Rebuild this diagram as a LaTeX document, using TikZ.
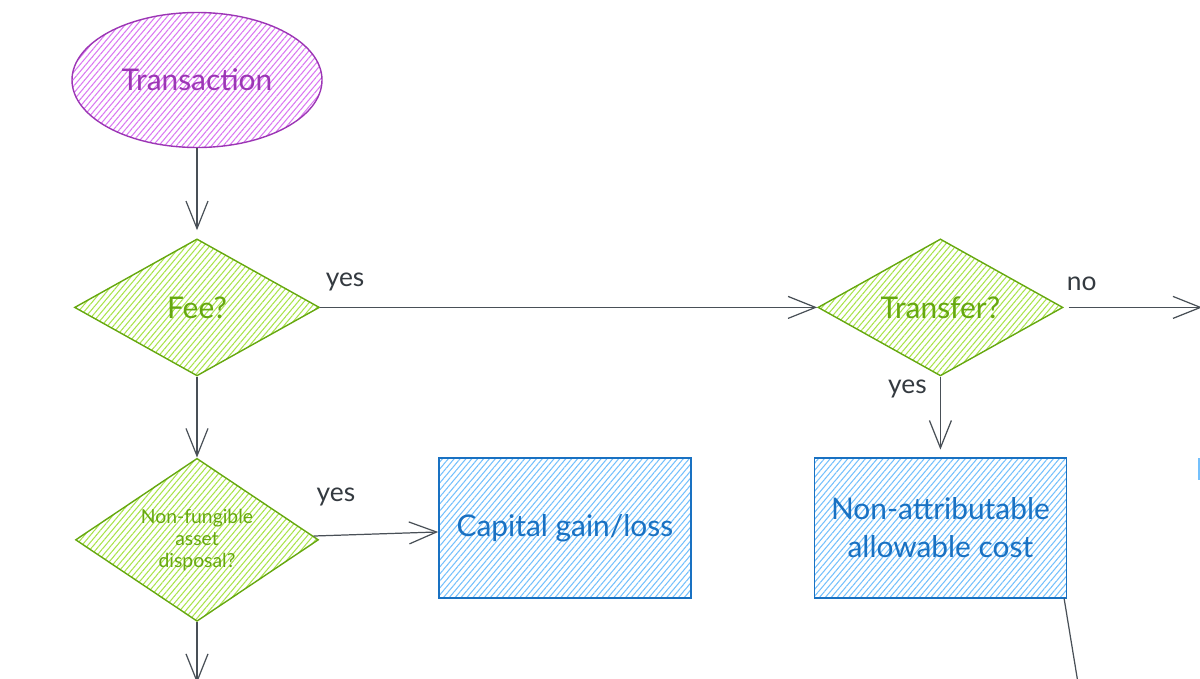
\documentclass[tikz,border=0pt]{standalone}
\usepackage{fontspec}
\setmainfont{Lato}
\usetikzlibrary{arrows.meta,positioning,shapes.geometric,patterns.meta}
\definecolor{txpurple}{HTML}{9C36B5}
\definecolor{txpurplefill}{HTML}{DA77F2}
\definecolor{txgreen}{HTML}{66A80F}
\definecolor{txgreenfill}{HTML}{A9E34B}
\definecolor{txblue}{HTML}{1971C2}
\definecolor{txbluefill}{HTML}{74C0FC}
\definecolor{txgray}{HTML}{495057}
\definecolor{txdark}{HTML}{343A40}

\begin{document}
\begin{tikzpicture}[
    node distance=1.65cm and 2.4cm,
    hatch/.style={pattern={Lines[angle=50,distance=0.09cm,line width=0.6pt]},
                  pattern color=#1},
    terminal/.style={ellipse, draw=txpurple, hatch=txpurplefill, line width=0.8pt,
                minimum width=5cm, minimum height=2.7cm, inner sep=0pt,
                text=txpurple, font=\fontsize{17}{20}\selectfont},
    decision/.style={diamond, aspect=1.6, draw=txgreen, hatch=txgreenfill, line width=0.8pt,
                minimum width=4.9cm, minimum height=2.74cm, inner sep=0pt,
                text=txgreen, align=center, font=\fontsize{17}{20}\selectfont},
    outcome/.style={rectangle, draw=txblue, hatch=txbluefill, line width=0.8pt,
                minimum width=5.04cm, minimum height=2.8cm, inner sep=0pt,
                text=txblue, align=center, font=\fontsize{17}{21.5}\selectfont},
    arr/.style={-{Straight Barb[length=5.5mm,width=4.4mm]}, line width=0.7pt, txgray},
    lbl/.style={font=\fontsize{15}{18}\selectfont, text=txdark}
]
\useasboundingbox (0,0) rectangle (24,-13.56);
\clip (0,0) rectangle (24,-13.56);

\node[terminal] (trans) at (3.94,-1.6) {Transaction};
\node[decision, below=1.8cm of trans] (fee) {Fee?};
\node[decision, right=9.94cm of fee] (transfer) {Transfer?};
\node[decision, below=1.62cm of fee, minimum width=4.86cm, minimum height=3.26cm,
      font=\fontsize{11}{12.5}\selectfont] (nfa) {Non-fungible\\asset\\disposal?};
\node[outcome, right=2.38cm of nfa, yshift=0.24cm] (capital) {Capital gain/loss};
\node[outcome, below=1.61cm of transfer] (nac) {Non-attributable\\allowable cost};

\coordinate[right=2.77cm of transfer] (noend);
\coordinate[below=1.22cm of nfa] (nfaend);
\coordinate[below right=2.8cm and 0.4cm of nac.south east] (nacend);

\draw[arr, shorten >=0.16cm] (trans) -- (fee);
\draw[arr] (fee) -- node[lbl, pos=0.05, yshift=0.5cm] {yes} (transfer);
\draw[arr, shorten <=0.1cm] (transfer) -- node[lbl, pos=0.13, yshift=0.48cm] {no} (noend);
\draw[arr, shorten >=0.15cm] (transfer) -- node[lbl, pos=0.15, xshift=-0.66cm] {yes} (nac);
\draw[arr] (fee) -- (nfa);
\draw[arr] (nfa) -- node[lbl, pos=0.18, yshift=0.76cm] {yes} (capital);
\draw[arr] (nfa) -- (nfaend);
\draw[arr] ([xshift=-0.06cm]nac.south east) -- (nacend);

\draw[txbluefill, line width=0.6pt] (23.98,-9.16) -- (23.98,-9.6);
\end{tikzpicture}
\end{document}
